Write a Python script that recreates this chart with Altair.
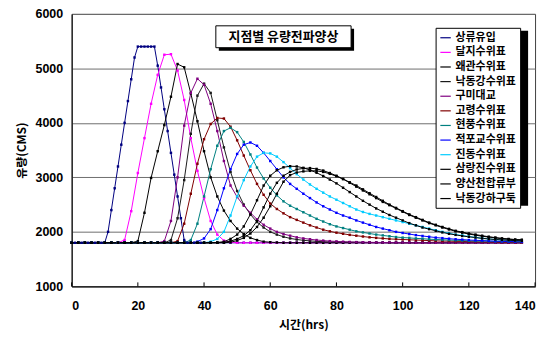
import altair as alt
import pandas as pd

hours = list(range(0, 137, 2))
hours_sangryu = list(range(0, 41)) + list(range(42, 137, 2))

names = ["상류유입", "달지수위표", "왜관수위표", "낙동강수위표", "구미대교", "고령수위표",
         "현풍수위표", "적포교수위표", "진동수위표", "삼랑진수위표", "양산천합류부", "낙동강하구둑"]
colors = ["#000080", "#FF00FF", "#000000", "#1a1a1a", "#800080", "#800000",
          "#008080", "#0000FF", "#00CCFF", "#000000", "#000000", "#000000"]

# hourly 0-40, then every 2 h (42-136)
s_sangryu = [1800, 1800, 1800, 1800, 1800, 1800, 1800, 1800, 1800, 1800,
             1800, 2000, 2400, 2800, 3200, 3600, 4000, 4400, 4800, 5200,
             5400, 5400, 5400, 5400, 5400, 5400, 5050, 4650, 4250, 3850,
             3450, 3050, 2650, 2250, 1850, 1800, 1800, 1800, 1800, 1800,
             1800,
             1800, 1800, 1800, 1800, 1800, 1800, 1800, 1800, 1800, 1800,
             1800, 1800, 1800, 1800, 1800, 1800, 1800, 1800, 1800, 1800,
             1800, 1800, 1800, 1800, 1800, 1800, 1800, 1800, 1800, 1800,
             1800, 1800, 1800, 1800, 1800, 1800, 1800, 1800, 1800, 1800,
             1800, 1800, 1800, 1800, 1800, 1800, 1800, 1800]
s_dalji = [1800, 1800, 1800, 1800, 1800, 1800, 1800, 1800, 1850, 2380,
           3080, 3720, 4350, 4880, 5250, 5260, 4960, 4420, 3720, 3120,
           2620, 2200, 1950, 1840, 1810, 1800, 1800, 1800, 1800, 1800,
           1800, 1800, 1800, 1800, 1800, 1800, 1800, 1800, 1800, 1800,
           1800, 1800, 1800, 1800, 1800, 1800, 1800, 1800, 1800, 1800,
           1800, 1800, 1800, 1800, 1800, 1800, 1800, 1800, 1800, 1800,
           1800, 1800, 1800, 1800, 1800, 1800, 1800, 1800, 1800]
s_waegwan = [1800, 1800, 1800, 1800, 1800, 1800, 1800, 1800, 1800, 1800,
             1830, 2350, 2990, 3480, 3960, 4480, 5080, 5020, 4540, 4030,
             3480, 3000, 2650, 2390, 2200, 2060, 1960, 1890, 1850, 1820,
             1810, 1805, 1800, 1800, 1800, 1800, 1800, 1800, 1800, 1800,
             1800, 1800, 1800, 1800, 1800, 1800, 1800, 1800, 1800, 1800,
             1800, 1800, 1800, 1800, 1800, 1800, 1800, 1800, 1800, 1800,
             1800, 1800, 1800, 1800, 1800, 1800, 1800, 1800, 1800]
s_nakdong = [1800, 1800, 1800, 1800, 1800, 1800, 1800, 1800, 1800, 1800,
             1800, 1800, 1800, 1800, 1800, 1850, 2250, 2950, 3800, 4500,
             4720, 4550, 4050, 3550, 3100, 2750, 2500, 2320, 2180, 2080,
             2000, 1950, 1910, 1880, 1860, 1845, 1835, 1825, 1820, 1815,
             1815, 1810, 1810, 1810, 1805, 1805, 1805, 1805, 1800, 1800,
             1800, 1800, 1800, 1800, 1800, 1800, 1800, 1800, 1800, 1800,
             1800, 1800, 1800, 1800, 1800, 1800, 1800, 1800, 1800]
s_gumi = [1800, 1800, 1800, 1800, 1800, 1800, 1800, 1800, 1800, 1800,
          1800, 1800, 1800, 1800, 1830, 2200, 3000, 3950, 4550, 4810,
          4700, 4350, 3850, 3300, 2850, 2640, 2480, 2350, 2230, 2130,
          2060, 2000, 1960, 1930, 1900, 1880, 1865, 1850, 1840, 1830,
          1825, 1820, 1815, 1812, 1810, 1808, 1806, 1805, 1804, 1803,
          1802, 1801, 1800, 1800, 1800, 1800, 1800, 1800, 1800, 1800,
          1800, 1800, 1800, 1800, 1800, 1800, 1800, 1800, 1800]
s_goryeong = [1800, 1800, 1800, 1800, 1800, 1800, 1800, 1800, 1800, 1800,
              1800, 1800, 1800, 1800, 1800, 1800, 1830, 2150, 2700, 3250,
              3700, 3980, 4090, 4080, 3930, 3680, 3400, 3130, 2880, 2680,
              2520, 2420, 2340, 2270, 2220, 2170, 2120, 2080, 2040, 2010,
              1985, 1965, 1945, 1930, 1915, 1900, 1890, 1880, 1870, 1865,
              1860, 1855, 1850, 1845, 1840, 1835, 1830, 1830, 1825, 1825,
              1820, 1820, 1815, 1815, 1815, 1810, 1810, 1810, 1810]
s_hyeonpung = [1800, 1800, 1800, 1800, 1800, 1800, 1800, 1800, 1800, 1800,
               1800, 1800, 1800, 1800, 1800, 1800, 1800, 1800, 1850, 2150,
               2650, 3150, 3580, 3850, 3910, 3830, 3650, 3420, 3180, 2980,
               2810, 2670, 2560, 2480, 2420, 2360, 2300, 2240, 2190, 2140,
               2100, 2070, 2040, 2010, 1990, 1970, 1950, 1935, 1920, 1905,
               1895, 1890, 1880, 1875, 1865, 1860, 1855, 1850, 1845, 1840,
               1835, 1832, 1830, 1828, 1825, 1822, 1820, 1818, 1815]
s_jeokpo = [1800, 1800, 1800, 1800, 1800, 1800, 1800, 1800, 1800, 1800,
            1800, 1800, 1800, 1800, 1800, 1800, 1800, 1800, 1800, 1820,
            1880, 2050, 2400, 2800, 3150, 3430, 3600, 3640, 3580, 3450,
            3300, 3150, 3000, 2880, 2790, 2700, 2620, 2540, 2470, 2410,
            2350, 2300, 2260, 2210, 2170, 2130, 2090, 2060, 2030, 2000,
            1980, 1960, 1940, 1925, 1910, 1895, 1885, 1875, 1865, 1858,
            1850, 1845, 1840, 1835, 1830, 1826, 1822, 1820, 1818]
s_jindong = [1800, 1800, 1800, 1800, 1800, 1800, 1800, 1800, 1800, 1800,
             1800, 1800, 1800, 1800, 1800, 1800, 1800, 1800, 1800, 1800,
             1800, 1820, 1870, 2000, 2300, 2650, 2950, 3200, 3380, 3450,
             3440, 3380, 3280, 3170, 3060, 2960, 2870, 2790, 2720, 2650,
             2590, 2530, 2470, 2410, 2365, 2330, 2300, 2270, 2240, 2210,
             2180, 2150, 2120, 2090, 2060, 2030, 2000, 1975, 1950, 1935,
             1915, 1900, 1885, 1870, 1860, 1850, 1845, 1840, 1835]
s_samnangjin = [1800, 1800, 1800, 1800, 1800, 1800, 1800, 1800, 1800, 1800,
                1800, 1800, 1800, 1800, 1800, 1800, 1800, 1800, 1800, 1800,
                1800, 1800, 1805, 1820, 1870, 1950, 2100, 2320, 2580, 2850,
                3030, 3130, 3185, 3205, 3200, 3175, 3135, 3085, 3025, 2960,
                2890, 2810, 2730, 2650, 2570, 2500, 2430, 2370, 2310, 2260,
                2210, 2160, 2120, 2080, 2050, 2020, 1990, 1965, 1945, 1925,
                1910, 1895, 1880, 1870, 1860, 1852, 1846, 1840, 1835]
s_yangsan = [1800, 1800, 1800, 1800, 1800, 1800, 1800, 1800, 1800, 1800,
             1800, 1800, 1800, 1800, 1800, 1800, 1800, 1800, 1800, 1800,
             1800, 1800, 1800, 1810, 1830, 1870, 1930, 2030, 2200, 2450,
             2700, 2900, 3030, 3100, 3145, 3165, 3170, 3155, 3125, 3080,
             3030, 2970, 2900, 2830, 2760, 2690, 2620, 2550, 2490, 2430,
             2370, 2310, 2260, 2210, 2160, 2120, 2080, 2045, 2010, 1985,
             1960, 1940, 1920, 1905, 1890, 1875, 1865, 1855, 1850]
s_hagudug = [1800, 1800, 1800, 1800, 1800, 1800, 1800, 1800, 1800, 1800,
             1800, 1800, 1800, 1800, 1800, 1800, 1800, 1800, 1800, 1800,
             1800, 1800, 1800, 1800, 1810, 1840, 1890, 1970, 2090, 2260,
             2470, 2700, 2920, 3040, 3090, 3110, 3120, 3120, 3100, 3065,
             3020, 2970, 2910, 2850, 2780, 2710, 2640, 2570, 2500, 2440,
             2380, 2320, 2270, 2220, 2170, 2130, 2090, 2055, 2020, 1995,
             1970, 1950, 1930, 1910, 1895, 1880, 1870, 1860, 1855]

series = [s_sangryu, s_dalji, s_waegwan, s_nakdong, s_gumi, s_goryeong,
          s_hyeonpung, s_jeokpo, s_jindong, s_samnangjin, s_yangsan, s_hagudug]
series_hours = [hours_sangryu] + [hours] * 11

x_ticks = [0, 20, 40, 60, 80, 100, 120, 140]
y_ticks = [1000, 2000, 3000, 4000, 5000, 6000]
chart_title = "지점별 유량전파양상"

rows = []
for name, hs, vals in zip(names, series_hours, series):
    assert len(vals) == len(hs), name
    for h, v in zip(hs, vals):
        rows.append({"시간": h, "유량": v, "지점": name})
df = pd.DataFrame(rows)

W, H = 466, 274
KR = "Noto Sans CJK KR"
LAT = "Liberation Sans"

lines = alt.Chart(df).mark_line(
    strokeWidth=1,
    point=alt.OverlayMarkDef(size=6, filled=True, shape="square"),
).encode(
    x=alt.X("시간:Q", scale=alt.Scale(domain=[0, 140], nice=False),
            axis=alt.Axis(values=x_ticks, title="시간(hrs)", grid=False, format="d",
                          titleX=W / 2, titleY=38, titleBaseline="middle",
                          labelPadding=13)),
    y=alt.Y("유량:Q", scale=alt.Scale(domain=[1000, 6000], nice=False),
            axis=alt.Axis(values=y_ticks, title="유량(CMS)", grid=True, format="d",
                          titleX=-50, titleY=H / 2, titleAngle=270,
                          titleAlign="center", titleBaseline="middle",
                          labelPadding=9)),
    color=alt.Color("지점:N", sort=names,
                    scale=alt.Scale(domain=names, range=colors),
                    legend=alt.Legend(title=None, orient="none", legendX=366, legendY=14,
                                      fillColor="white", strokeColor="black",
                                      padding=4, symbolType="stroke", symbolSize=110,
                                      symbolStrokeWidth=1.2, labelFont=KR,
                                      labelFontWeight="bold", labelFontSize=11,
                                      rowPadding=3.7, labelOffset=4, labelLimit=200)),
    order="시간:Q",
)

tick_df = pd.DataFrame({"t": x_ticks})
xticks = alt.Chart(tick_df).mark_rule(color="black", strokeWidth=1).encode(
    x="t:Q", y=alt.value(H), y2=alt.value(H - 4))

tdf = pd.DataFrame({"t": [chart_title]})
title_shadow = alt.Chart(tdf).mark_rect(color="black").encode(
    x=alt.value(148), x2=alt.value(284), y=alt.value(15), y2=alt.value(37))
title_box = alt.Chart(tdf).mark_rect(fill="white", stroke="black", strokeWidth=1).encode(
    x=alt.value(145), x2=alt.value(281), y=alt.value(12), y2=alt.value(34))
title_text = alt.Chart(tdf).mark_text(font=KR, fontWeight="bold", fontSize=13,
                                      color="black", baseline="middle", align="center").encode(
    text="t:N", x=alt.value(213), y=alt.value(23))
legend_shadow = alt.Chart(tdf).mark_rect(color="black").encode(
    x=alt.value(369), x2=alt.value(459), y=alt.value(17), y2=alt.value(193))

chart = alt.layer(
    legend_shadow, lines, xticks, title_shadow, title_box, title_text
).properties(
    width=W, height=H,
    autosize=alt.AutoSizeParams(type="none"),
    padding={"left": 64, "top": 5, "right": 10, "bottom": 50},
    background="white",
).configure_view(
    stroke="#404040", strokeWidth=1
).configure_axis(
    domainColor="black", domainWidth=1, tickSize=0,
    gridColor="#6e6e6e", gridWidth=1,
    labelFont=LAT, labelFontWeight="bold", labelFontSize=12.5, labelColor="black",
    titleFont=KR, titleFontWeight="bold", titleFontSize=12, titleColor="black",
)

chart.save("out.html", embed_options={"renderer": "svg", "actions": False})
